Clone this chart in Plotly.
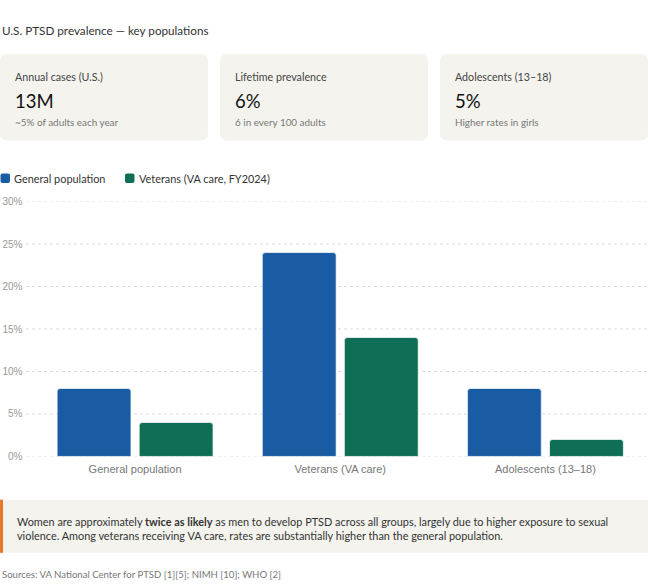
import plotly.graph_objects as go

W, H = 648, 585

categories = ["General population", "Veterans (VA care)", "Adolescents (13–18)"]
general_values = [8, 24, 8]
veteran_values = [4, 14, 2]
series_names = ["General population", "Veterans (VA care, FY2024)"]
y_ticks = [0, 5, 10, 15, 20, 25, 30]
y_tick_labels = ["0%", "5%", "10%", "15%", "20%", "25%", "30%"]

card_labels = ["Annual cases (U.S.)", "Lifetime prevalence", "Adolescents (13–18)"]
card_values = ["13M", "6%", "5%"]
card_subs = ["~5% of adults each year", "6 in every 100 adults", "Higher rates in girls"]

title_text = "U.S. PTSD prevalence — key populations"
note_text = ("Women are approximately <b>twice as likely</b> as men to develop PTSD across all groups, largely due to higher exposure to sexual<br>"
             "violence. Among veterans receiving VA care, rates are substantially higher than the general population.")
source_text = "Sources: VA National Center for PTSD [1][5]; NIMH [10]; WHO [2]"

BLUE = "#1a5ca4"
GREEN = "#0f6e56"
CARD_BG = "#f4f3ee"
UI_FONT = "Lato"
AX_FONT = "Liberation Sans"


def px(x):
    return x / W


def py(y):
    return 1 - y / H


def rounded_rect(x0, y0, x1, y1, r):
    rx, ry = r / W, r / H
    X0, X1 = px(x0), px(x1)
    Y0, Y1 = py(y0), py(y1)  # Y0 top, Y1 bottom
    return (f"M {X0+rx},{Y0} L {X1-rx},{Y0} Q {X1},{Y0} {X1},{Y0-ry} "
            f"L {X1},{Y1+ry} Q {X1},{Y1} {X1-rx},{Y1} L {X0+rx},{Y1} "
            f"Q {X0},{Y1} {X0},{Y1+ry} L {X0},{Y0-ry} Q {X0},{Y0} {X0+rx},{Y0} Z")


fig = go.Figure()
fig.add_trace(go.Bar(x=categories, y=general_values, name=series_names[0],
                     marker=dict(color=BLUE, line=dict(color="rgba(255,255,255,0.7)", width=1)),
                     hovertemplate="%{x}: %{y}%<extra></extra>"))
fig.add_trace(go.Bar(x=categories, y=veteran_values, name=series_names[1],
                     marker=dict(color=GREEN, line=dict(color="rgba(255,255,255,0.7)", width=1)),
                     hovertemplate="%{x}: %{y}%<extra></extra>"))

shapes = []
annotations = []

# Title
annotations.append(dict(x=0, y=py(24.3), xref="paper", yref="paper", xanchor="left", yanchor="middle",
                        text=title_text, showarrow=False, font=dict(family=UI_FONT, size=11.7, color="#333")))

# Cards
card_x = [(0, 208), (220, 428), (440, 648)]
for i, (x0, x1) in enumerate(card_x):
    shapes.append(dict(type="path", path=rounded_rect(x0, 49, x1, 137, 7), xref="paper", yref="paper",
                       fillcolor=CARD_BG, line=dict(width=0), layer="below"))
    annotations.append(dict(x=px(x0 + 13), y=py(71.4), xref="paper", yref="paper", xanchor="left", yanchor="middle",
                            text=card_labels[i], showarrow=False,
                            font=dict(family=UI_FONT, size=10.7, color="#444")))
    annotations.append(dict(x=px(x0 + 12.5), y=py(96.5), xref="paper", yref="paper", xanchor="left", yanchor="middle",
                            text=card_values[i], showarrow=False,
                            font=dict(family=UI_FONT, size=18.5, color="#111")))
    annotations.append(dict(x=px(x0 + 13), y=py(118.5), xref="paper", yref="paper", xanchor="left", yanchor="middle",
                            text=card_subs[i], showarrow=False,
                            font=dict(family=UI_FONT, size=9.9, color="#777")))

# Legend (manual)
legend_items = [(0.5, BLUE, series_names[0]), (125, GREEN, series_names[1])]
for lx, col, name in legend_items:
    shapes.append(dict(type="path", path=rounded_rect(lx, 170.8, lx + 9.5, 180.3, 2), xref="paper", yref="paper",
                       fillcolor=col, line=dict(width=0)))
    annotations.append(dict(x=px(lx + 11.5), y=py(175.7), xref="paper", yref="paper", xanchor="left", yanchor="middle",
                            text=name, showarrow=False, font=dict(family=UI_FONT, size=10.9, color="#333")))

# Dotted gridlines extending into the tick area (one per y tick)
for v in y_ticks:
    shapes.append(dict(type="line", xref="paper", yref="y", x0=px(26), x1=1, y0=v, y1=v,
                       line=dict(color="#dcdcdc", width=1, dash="dot"), layer="below"))

# Note box
shapes.append(dict(type="rect", x0=0, x1=1, y0=py(557.3), y1=py(503.1), xref="paper", yref="paper",
                   fillcolor=CARD_BG, line=dict(width=0), layer="below"))
shapes.append(dict(type="rect", x0=0, x1=px(3), y0=py(557.3), y1=py(503.1), xref="paper", yref="paper",
                   fillcolor="#e8772b", line=dict(width=0)))
annotations.append(dict(x=px(15), y=py(532.2), xref="paper", yref="paper", xanchor="left", yanchor="middle",
                        text=note_text, showarrow=False, align="left",
                        font=dict(family=UI_FONT, size=10.9, color="#333")))

# Sources
annotations.append(dict(x=0, y=py(579.3), xref="paper", yref="paper", xanchor="left", yanchor="middle",
                        text=source_text, showarrow=False, font=dict(family=UI_FONT, size=9.6, color="#777")))

fig.update_layout(
    width=W, height=H,
    margin=dict(l=0, r=0, t=0, b=0),
    paper_bgcolor="white", plot_bgcolor="white",
    showlegend=False,
    barmode="group", bargap=0.2, bargroupgap=0.1,
    barcornerradius=3,
    shapes=shapes, annotations=annotations,
    xaxis=dict(domain=[px(32.5), 1], showgrid=False, zeroline=False, showline=False, ticks="",
               ticklabelstandoff=5,
               tickfont=dict(family=AX_FONT, size=11, color="#777")),
    yaxis=dict(domain=[py(459.1), py(199.3)], range=[0, 30], tickvals=y_ticks, ticktext=y_tick_labels,
               showgrid=False, zeroline=False, showline=False, ticks="",
               ticklabelstandoff=9,
               tickfont=dict(family=AX_FONT, size=10, color="#999")),
)

fig.write_html("out.html")
